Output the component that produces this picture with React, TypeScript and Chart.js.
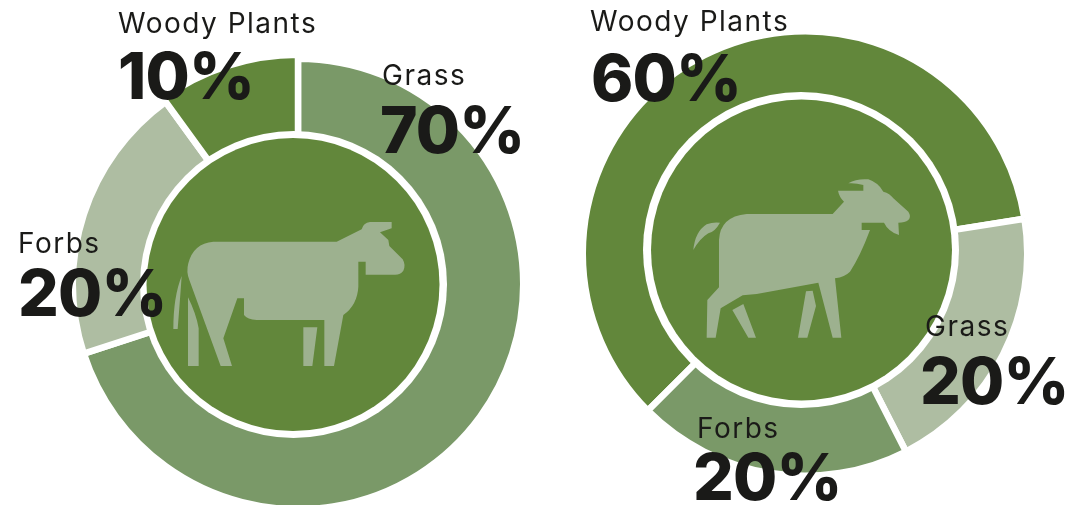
import React, { useEffect, useRef } from "react";
import { Chart, registerables } from "chart.js";

Chart.register(...registerables);

const cowCategories = ["Grass", "Forbs", "Woody Plants"];
const cowValues = [70, 20, 10];
const goatCategories = ["Woody Plants", "Grass", "Forbs"];
const goatValues = [60, 20, 20];

const WOODY = "#62873b";
const MID = "#7a9968";
const PALE = "#aebda2";
const ICON = "#9db18f";
const INK = "#1a1a18";
const cowColors = [MID, PALE, WOODY];
const goatColors = [WOODY, PALE, MID];

const COW = [
  "M160 125L530 125L605 88Q610 68 630 66L695 66L695 85L660 97L685 120L688 138L728 178Q738 195 730 212Q722 224 705 224L617 224L617 185L595 185L595 260Q592 315 550 345L522 498L493 498L493 360L290 360Q262 358 252 345L252 295L232 295L190 415L216 498L182 498L88 240Q78 215 85 190Q100 130 160 125Z",
  "M84 292Q108 340 116 385L116 498L84 498Z",
  "M430 382L472 382L457 498L430 498Z",
  "M65 228Q60 300 53 387L40 387Q40 290 65 228Z",
].join("");
const GOAT = [
  "M200 132L458 132L492 95Q478 82 474 62L550 62L550 45Q525 38 505 40Q530 25 565 28Q595 38 610 65Q630 70 640 85L685 125Q695 140 685 150Q675 158 655 158L657 195Q625 185 612 158L545 158L545 180L570 180Q540 260 510 305Q495 320 465 325L484 503L458 503L415 338L230 372L188 376L122 415L107 503L80 503L82 390L117 352L117 210Q120 140 200 132Z",
  "M157 420L190 402L228 503L205 503Z",
  "M378 364L398 362L408 408L382 503L354 503Z",
  "M120 158Q105 185 85 190Q60 205 40 240Q45 185 80 163Q100 155 120 158Z",
].join("");

type Spec = {
  categories: string[];
  values: number[];
  colors: string[];
  rotation: number;
  cx: number;
  cy: number;
  radius: number;
  ring: [number, number, number];
  disc: [number, number, number];
  bulge: number[];
  icon: string;
  iconAt: [number, number];
  texts: { label: [number, number]; value: [number, number] }[];
};

const W = 1083;
const H = 505;
const LABEL_FONT = "400 28px Inter";
const VALUE_FONT = "800 64px Inter";

const specs: Spec[] = [
  {
    categories: cowCategories,
    values: cowValues,
    colors: cowColors,
    rotation: 0,
    cx: 298,
    cy: 284,
    radius: 225.25,
    ring: [293.5, 284.5, 153.5],
    disc: [293, 284.5, 146.5],
    bulge: [0, 0, 4],
    icon: COW,
    iconAt: [160, 200],
    texts: [
      { label: [382, 85], value: [380, 153] },
      { label: [18, 253], value: [18, 316] },
      { label: [118, 33], value: [118, 99] },
    ],
  },
  {
    categories: goatCategories,
    values: goatValues,
    colors: goatColors,
    rotation: 225,
    cx: 805,
    cy: 253.5,
    radius: 222.25,
    ring: [801, 250, 158],
    disc: [801.5, 250, 150.5],
    bulge: [0, 0, 0],
    icon: GOAT,
    iconAt: [680, 170],
    texts: [
      { label: [590, 31], value: [591, 101] },
      { label: [925, 336], value: [920, 404] },
      { label: [697, 438], value: [693, 500] },
    ],
  },
];

function Donut({ spec }: { spec: Spec }) {
  const ref = useRef<HTMLCanvasElement>(null);
  useEffect(() => {
    const R = 150;
    const chart = new Chart(ref.current!, {
      type: "doughnut",
      data: {
        labels: spec.categories,
        datasets: [
          {
            data: spec.values,
            backgroundColor: spec.colors,
            borderColor: "#ffffff",
            borderWidth: 6.5,
            radius: spec.radius,
            cutout: "55%",
          } as any,
        ],
      },
      options: {
        animation: false,
        responsive: false,
        rotation: spec.rotation,
        layout: {
          padding: {
            left: spec.cx - R,
            right: W - spec.cx - R,
            top: spec.cy - R,
            bottom: H - spec.cy - R,
          },
        },
        plugins: { legend: { display: false }, tooltip: { enabled: false } },
      },
      plugins: [
        {
          id: "extras",
          afterDatasetsUpdate(c: any) {
            c.getDatasetMeta(0).data.forEach((arc: any, i: number) => {
              arc.outerRadius += spec.bulge[i];
            });
          },
          afterDatasetsDraw(c: any) {
            const ctx = c.ctx;
            ctx.save();
            ctx.fillStyle = "#ffffff";
            ctx.beginPath();
            ctx.arc(spec.ring[0], spec.ring[1], spec.ring[2], 0, Math.PI * 2);
            ctx.fill();
            ctx.fillStyle = WOODY;
            ctx.beginPath();
            ctx.arc(spec.disc[0], spec.disc[1], spec.disc[2], 0, Math.PI * 2);
            ctx.fill();
            ctx.translate(spec.iconAt[0], spec.iconAt[1]);
            ctx.scale(1 / 3, 1 / 3);
            ctx.fillStyle = ICON;
            ctx.fill(new Path2D(spec.icon));
            ctx.restore();
          },
          afterDraw(c: any) {
            const ctx = c.ctx;
            ctx.save();
            ctx.fillStyle = INK;
            ctx.textBaseline = "alphabetic";
            ctx.textAlign = "left";
            spec.categories.forEach((name, i) => {
              const t = spec.texts[i];
              ctx.font = LABEL_FONT;
              ctx.letterSpacing = "1.5px";
              ctx.fillText(name, t.label[0], t.label[1]);
              ctx.font = VALUE_FONT;
              ctx.letterSpacing = "-0.8px";
              ctx.fillText(`${spec.values[i]}%`, t.value[0], t.value[1]);
            });
            ctx.restore();
          },
        },
      ],
    } as any);
    return () => chart.destroy();
  }, [spec]);
  return (
    <canvas
      ref={ref}
      width={W}
      height={H}
      style={{ position: "absolute", left: 0, top: 0, width: W, height: H }}
    />
  );
}

export default function App() {
  return (
    <div style={{ position: "fixed", left: 0, top: 0, width: W, height: H, background: "#fff", overflow: "hidden" }}>
      {specs.map((s, i) => (
        <Donut key={i} spec={s} />
      ))}
    </div>
  );
}
